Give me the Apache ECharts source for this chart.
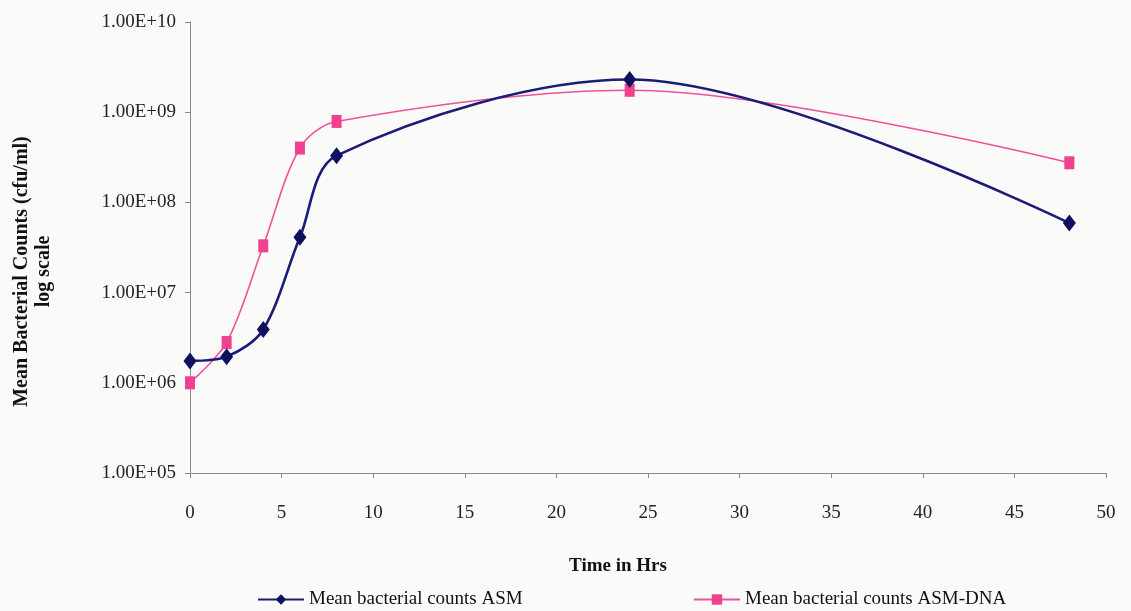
<!DOCTYPE html>
<html>
<head>
<meta charset="utf-8">
<script src="https://cdn.jsdelivr.net/npm/echarts@6/dist/echarts.min.js"></script>
<style>
  html, body { margin: 0; padding: 0; background: #fafaf8; }
  #chart { width: 1131px; height: 611px; }
</style>
</head>
<body>
<div id="chart"></div>
<script>
// Sampling times (hours)
const hours = [0, 2, 4, 6, 8, 24, 48];
// Mean bacterial counts (cfu/ml)
const asmCounts = [1.75e6, 1.95e6, 3.9e6, 4.1e7, 3.3e8, 2.3e9, 5.9e7];
const asmDnaCounts = [1.0e6, 2.8e6, 3.3e7, 4.0e8, 7.9e8, 1.75e9, 2.75e8];
const seriesNames = ['Mean bacterial counts ASM', 'Mean bacterial counts ASM-DNA'];
const xTicks = { min: 0, max: 50, step: 5 };
const yRange = { min: 1e5, max: 1e10 };

const serif = '"Liberation Serif", "DejaVu Serif", serif';

function sci(v) {
  const exp = Math.round(Math.log10(v));
  const mant = v / Math.pow(10, exp);
  const e = (exp < 10 ? '0' : '') + exp;
  return mant.toFixed(2) + 'E+' + e;
}

const chart = echarts.init(document.getElementById('chart'));
chart.setOption({
  backgroundColor: '#fafaf8',
  animation: false,
  grid: { left: 190, right: 25, top: 22, bottom: 138, outerBoundsMode: 'none', containLabel: false },
  xAxis: {
    type: 'value',
    min: xTicks.min, max: xTicks.max, interval: xTicks.step,
    name: 'Time in Hrs',
    nameLocation: 'middle',
    nameGap: 84,
    nameTextStyle: { fontFamily: serif, fontSize: 19, fontWeight: 'bold', color: '#111', padding: [0, 60, 0, 0] },
    axisLine: { lineStyle: { color: '#8a8a8a', width: 1 } },
    axisTick: { show: true, length: 5, lineStyle: { color: '#8a8a8a' } },
    axisLabel: { fontFamily: serif, fontSize: 19, color: '#222', margin: 31 },
    splitLine: { show: false }
  },
  yAxis: {
    type: 'log', logBase: 10,
    min: yRange.min, max: yRange.max,
    name: 'Mean Bacterial Counts (cfu/ml)\nlog scale',
    nameLocation: 'middle',
    nameRotate: 90,
    nameGap: 135,
    nameTextStyle: { fontFamily: serif, fontSize: 20, fontWeight: 'bold', color: '#111', lineHeight: 22, padding: [0, 48, 0, 0] },
    axisLine: { show: true, lineStyle: { color: '#8a8a8a', width: 1 } },
    axisTick: { show: true, length: 5, lineStyle: { color: '#8a8a8a' } },
    axisLabel: { fontFamily: serif, fontSize: 19, color: '#222', margin: 14, formatter: sci },
    splitLine: { show: false },
    minorTick: { show: false }
  },
  legend: [
    {
      data: [seriesNames[0]], left: 257, top: 590, padding: 0,
      itemWidth: 46, itemHeight: 13, itemGap: 6,
      textStyle: { fontFamily: serif, fontSize: 19, color: '#111' }
    },
    {
      data: [seriesNames[1]], left: 693, top: 590, padding: 0,
      itemWidth: 46, itemHeight: 13, itemGap: 4,
      textStyle: { fontFamily: serif, fontSize: 19, color: '#111' }
    }
  ],
  series: [
    {
      name: seriesNames[1],
      type: 'line',
      smooth: 0.32,
      data: hours.map((h, i) => [h, asmDnaCounts[i]]),
      symbol: 'rect',
      symbolSize: [10, 13],
      lineStyle: { color: '#f0509a', width: 1.6 },
      itemStyle: { color: '#f0408f' }
    },
    {
      name: seriesNames[0],
      type: 'line',
      smooth: 0.32,
      data: hours.map((h, i) => [h, asmCounts[i]]),
      symbol: 'diamond',
      symbolSize: [13, 17],
      lineStyle: { color: '#1c1c78', width: 2.6 },
      itemStyle: { color: '#101060' }
    }
  ]
});
</script>
</body>
</html>
